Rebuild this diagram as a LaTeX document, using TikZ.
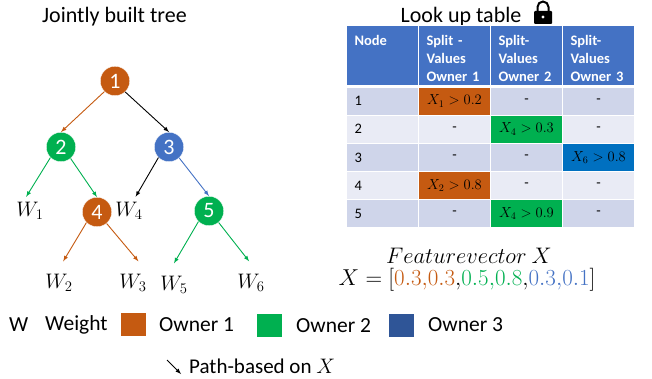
\documentclass[tikz,border=0pt]{standalone}
\usepackage{fix-cm}
\usepackage{amsmath}
\usepackage{fontspec}
\setmainfont{Carlito}
\usepackage{xcolor}
\definecolor{ownerone}{HTML}{C55A11}
\definecolor{ownertwo}{HTML}{00B050}
\definecolor{ownerthree}{HTML}{4472C4}
\definecolor{splitblue}{HTML}{0070C0}
\definecolor{legendblue}{HTML}{2F5597}
\definecolor{rowodd}{HTML}{CFD5EA}
\definecolor{roweven}{HTML}{E9EBF5}
\newcommand{\px}[1]{\fontsize{#1}{#1}\selectfont}
\tikzset{
  treenode/.style={circle,draw=white,line width=.4pt,minimum size=29.5pt,inner sep=0pt,text=white,font=\px{22}},
  leaf/.style={minimum width=30pt,minimum height=28pt,inner sep=0pt,font=\px{21}},
  lowleaf/.style={leaf,minimum height=43pt},
  path/.style={-latex,line width=.9pt},
  title/.style={inner sep=0pt,font=\px{22}},
  legend/.style={inner sep=0pt,anchor=west,font=\px{21.5}},
  swatch/.style={minimum width=25pt,minimum height=23pt,inner sep=0pt},
  cell/.style={draw=white,line width=.8pt,minimum width=72pt,minimum height=28pt,inner sep=0pt,font=\px{14.5}},
  rowcell/.style={cell,text width=56pt,inner xsep=8pt,align=left},
  headcell/.style={cell,fill=ownerthree,text=white,minimum height=60pt,text width=56pt,inner xsep=8pt,align=left,font=\bfseries\fontsize{14.5}{18}\selectfont,execute at begin node=\rule{0pt}{17pt}}
}
\begin{document}
\begin{tikzpicture}[x=1pt,y=-1pt]
    \useasboundingbox (0,0) rectangle (652,379);

      % Titles
      \node[title] (treetitle) at (114.5,17) {Jointly built tree};
      \node[title] (tabletitle) at (461,16.5) {Look up table};

      % Lock
      \draw[line width=2pt] (537.5,12) -- (537.5,7) arc (180:360:5.5) -- (548.5,12);
      \fill[rounded corners=1pt] (534,11) rectangle (552,24);
      \fill[white] (543,17) circle (1.6);

      % Tree
      \node[treenode,fill=ownerone] (n1) at (115,81) {1};
      \node[treenode,fill=ownertwo] (n2) at (61,147) {2};
      \node[treenode,fill=ownerthree] (n3) at (169,147) {3};
      \node[treenode,fill=ownerone] (n4) at (97,212) {4};
      \node[treenode,fill=ownertwo] (n5) at (209,211) {5};

      % Weights
      \node[leaf] (w1) at (30,211) {$W_1$};
      \node[leaf] (w4) at (129,211) {$W_4$};
      \node[lowleaf] (w2) at (59,283) {$W_2$};
      \node[lowleaf] (w3) at (133,283) {$W_3$};
      \node[lowleaf] (w5) at (174,285) {$W_5$};
      \node[lowleaf] (w6) at (251,283) {$W_6$};

      % Paths
      \draw[path,ownerone] (n1.225) -- (n2.north);
      \draw[path] (n1.-47) -- (n3.north);
      \draw[path,ownertwo] (n2.225) -- (w1.105);
      \draw[path,ownertwo] (n2.-50) -- (n4.north);
      \draw[path] (n3.225) -- (w4.65);
      \draw[path,ownerthree] (n3.-47) -- (n5.north);
      \draw[path,ownerone] (n4.225) -- (w2.79);
      \draw[path,ownerone] (n4.-50) -- (w3.76);
      \draw[path,ownertwo] (n5.225) -- (w5.north);
      \draw[path,ownertwo] (n5.-50) -- (w6.95);

      % Table head
      \node[headcell] (h1) at (382.5,55) {Node\\~\\~};
      \node[headcell] (h2) at (454.5,55) {Split -\\Values\\Owner 1};
      \node[headcell] (h3) at (526.5,55) {Split-\\Values\\Owner 2};
      \node[headcell] (h4) at (598.5,55) {Split-\\Values\\Owner 3};

      % Table rows
      \node[rowcell,fill=rowodd] (c11) at (382.5,101) {1};
      \node[cell,fill=ownerone] (c12) at (454.5,101) {$X_1>0.2$};
      \node[cell,fill=rowodd] (c13) at (526.5,101) {-};
      \node[cell,fill=rowodd] (c14) at (598.5,101) {-};

      \node[rowcell,fill=roweven] (c21) at (382.5,129) {2};
      \node[cell,fill=roweven] (c22) at (454.5,129) {-};
      \node[cell,fill=ownertwo] (c23) at (526.5,129) {$X_4>0.3$};
      \node[cell,fill=roweven] (c24) at (598.5,129) {-};

      \node[rowcell,fill=rowodd] (c31) at (382.5,157.5) {3};
      \node[cell,fill=rowodd] (c32) at (454.5,157.5) {-};
      \node[cell,fill=rowodd] (c33) at (526.5,157.5) {-};
      \node[cell,fill=splitblue] (c34) at (598.5,157.5) {$X_6>0.8$};

      \node[rowcell,fill=roweven] (c41) at (382.5,185.5) {4};
      \node[cell,fill=ownerone] (c42) at (454.5,185.5) {$X_2>0.8$};
      \node[cell,fill=roweven] (c43) at (526.5,185.5) {-};
      \node[cell,fill=roweven] (c44) at (598.5,185.5) {-};

      \node[rowcell,fill=rowodd] (c51) at (382.5,213.5) {5};
      \node[cell,fill=rowodd] (c52) at (454.5,213.5) {-};
      \node[cell,fill=ownertwo] (c53) at (526.5,213.5) {$X_4>0.9$};
      \node[cell,fill=rowodd] (c54) at (598.5,213.5) {-};

      % Feature vector
      \node[inner sep=0pt,font=\px{22.5}] (fname) at (469,256) {$Feature vector\ X$};
      \node[inner sep=0pt,font=\px{23}] (fvalues) at (467,280) {$X=[\textcolor{ownerone}{0.3{,}0.3}{,}\textcolor{ownertwo}{0.5{,}0.8}{,}\textcolor{ownerthree}{0.3{,}0.1}]$};

      % Legend
      \node[legend] (lw) at (9,325) {W};
      \node[legend] (lweight) at (45,325) {Weight};
      \node[swatch,fill=ownerone] (s1) at (133,324.5) {};
      \node[legend] (l1) at (159,325) {Owner 1};
      \node[swatch,fill=ownertwo] (s2) at (269.5,325.5) {};
      \node[legend] (l2) at (296,326) {Owner 2};
      \node[swatch,fill=legendblue] (s3) at (401.5,325) {};
      \node[legend] (l3) at (428,325) {Owner 3};

      % Path key
      \coordinate (pa) at (167,360);
      \coordinate (pb) at (181,374);
      \draw[-latex,line width=.9pt] (pa) -- (pb);
      \node[legend,font=\px{21}] (lpath) at (189,366) {Path-based on $X$};
  \end{tikzpicture}
\end{document}
